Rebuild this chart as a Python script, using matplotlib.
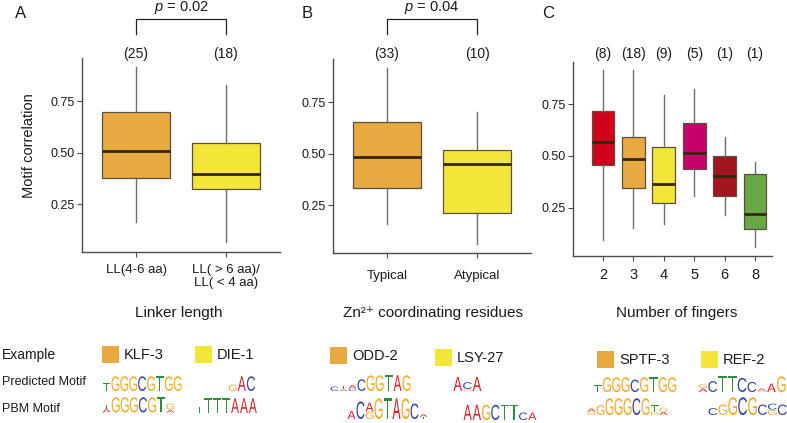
import matplotlib
matplotlib.use("Agg")
import matplotlib.pyplot as plt
from matplotlib.textpath import TextPath
from matplotlib.font_manager import FontProperties
from matplotlib.patches import PathPatch, Rectangle
from matplotlib.transforms import Affine2D

plt.rcParams['font.family'] = ['Liberation Sans', 'DejaVu Sans']
plt.rcParams['mathtext.fontset'] = 'custom'
plt.rcParams['mathtext.rm'] = 'Liberation Sans'
plt.rcParams['mathtext.it'] = 'Liberation Sans:italic'

# ---------------- data ----------------
# Panel A
a_cats = ["LL(4-6 aa)", "LL( > 6 aa)/\nLL( < 4 aa)"]
a_counts = [25, 18]
a_whislo = [0.163, 0.066]
a_q1 = [0.376, 0.323]
a_med = [0.505, 0.396]
a_q3 = [0.697, 0.546]
a_whishi = [0.915, 0.828]
a_pval = "0.02"

# Panel B
b_cats = ["Typical", "Atypical"]
b_counts = [33, 10]
b_whislo = [0.158, 0.060]
b_q1 = [0.333, 0.211]
b_med = [0.483, 0.449]
b_q3 = [0.653, 0.517]
b_whishi = [0.915, 0.700]
b_pval = "0.04"

# Panel C
c_cats = ["2", "3", "4", "5", "6", "8"]
c_counts = [8, 18, 9, 5, 1, 1]
c_whislo = [0.096, 0.154, 0.173, 0.307, 0.216, 0.063]
c_q1 = [0.457, 0.346, 0.274, 0.437, 0.307, 0.149]
c_med = [0.567, 0.486, 0.365, 0.514, 0.404, 0.221]
c_q3 = [0.716, 0.591, 0.543, 0.659, 0.500, 0.413]
c_whishi = [0.913, 0.913, 0.793, 0.822, 0.591, 0.471]

ytick_vals = [0.25, 0.50, 0.75]
ytick_labels = ["0.25", "0.50", "0.75"]

# Example legend names
ex_names = ["KLF-3", "DIE-1", "ODD-2", "LSY-27", "SPTF-3", "REF-2"]

# Sequence logos: columns separated by spaces, letters stacked bottom->top "letter+height"
logo_pred = [
    "T.55 G1 G1 G1 C1 G1 T1 G1 G1",          # KLF-3
    "G.45 A1 C1",                            # DIE-1
    "C.3 A.12/T.22 C.15/A.25 C.75 G1 G1 T1 A1 G1",  # ODD-2
    "A.9 G.12/C.45 A.9",                     # LSY-27
    "T.5 G1 G1 G1 C.85 G1 T1 G1 G1",         # SPTF-3
    "A.25/G.25 C.7 T1 T1 C.9 C.65 G.08/A.15 A.55 G1",  # REF-2
]
logo_pbm = [
    "A.25/T.25 G1 G1 G1 C1 G1 T1 A.2/G.4",   # KLF-3
    "T.45 T1 T1 T1 A1 A1 A1",                # DIE-1
    "A.4 C.85 G.35/A.45 G1 T1 A1 G1 C.75 T.1/A.15",  # ODD-2
    "A1 A1 G1 C1 T1 T1 C.5 A.5",             # LSY-27
    "G.2/A.2 G.6 G1 G1 G1 C1 G1 G.2/T.4 A.2/G.25",  # SPTF-3
    "C.4 G.6 G1 C1 G1 C.6 G.3/C.35 C.6",     # REF-2
]

# ---------------- style ----------------
W, H = 787, 423
fig = plt.figure(figsize=(W / 100, H / 100), dpi=100)

col_orange = "#E8AA40"
col_yellow = "#F4E639"
c_colors = ["#D0021B", col_orange, col_yellow, "#C7006E", "#A3151F", "#66A843"]
letter_colors = {"A": "#D42129", "C": "#3343A5", "G": "#F0AA26", "T": "#2E8C3E"}
axis_col = "#4d4d4d"
txt_col = "#1a1a1a"


def add_ax(left, top, right, bottom):
    return fig.add_axes([left / W, 1 - bottom / H, (right - left) / W, (bottom - top) / H])


def style_axes(ax, cats, xfs):
    for s in ["top", "right"]:
        ax.spines[s].set_visible(False)
    for s in ["left", "bottom"]:
        ax.spines[s].set_color(axis_col)
        ax.spines[s].set_linewidth(1.0)
    ax.set_yticks(ytick_vals)
    ax.set_yticklabels(ytick_labels)
    ax.set_xticks(range(1, len(cats) + 1))
    ax.set_xticklabels(cats, linespacing=1.15)
    ax.tick_params(axis="y", direction="out", length=3.5, width=0.8, color=axis_col,
                   labelsize=9, labelcolor=txt_col, pad=1.5)
    ax.tick_params(axis="x", direction="out", length=3.5, width=0.8, color=axis_col,
                   labelsize=xfs, labelcolor=txt_col, pad=5)
    ax.set_facecolor("none")


def draw_boxes(ax, whislo, q1, med, q3, whishi, colors, ylim):
    stats = []
    for i in range(len(med)):
        stats.append(dict(whislo=whislo[i], q1=q1[i], med=med[i], q3=q3[i],
                          whishi=whishi[i], fliers=[]))
    bp = ax.bxp(stats, positions=range(1, len(med) + 1), widths=0.75, patch_artist=True,
                showcaps=False, showfliers=False,
                boxprops=dict(edgecolor="#5a5040", linewidth=0.9),
                medianprops=dict(color="#33260f", linewidth=2.0),
                whiskerprops=dict(color="#6e6e6e", linewidth=1.0))
    for patch, c in zip(bp["boxes"], colors):
        patch.set_facecolor(c)
    ax.set_ylim(*ylim)


def annotate_top(ax, counts, ylim, px_per_unit, top_px, count_px, pval=None):
    ytop = ylim[1]
    def val(ypx):
        return ytop + (top_px - ypx) / px_per_unit
    for i, n in enumerate(counts):
        ax.text(i + 1, val(count_px), "(%d)" % n, ha="center", va="center", fontsize=10,
                color=txt_col, clip_on=False)
    if pval is not None:
        ax.plot([1, 1, 2, 2], [val(34), val(19), val(19), val(34)], color="#222222",
                lw=0.9, clip_on=False, solid_joinstyle="miter")
        ax.text(1.5, val(7), r"$p$ = " + pval, ha="center", va="center", fontsize=10.5,
                color=txt_col, clip_on=False)


# Panel A
ylimAB = (0.017, 0.959)
axA = add_ax(82, 58, 280, 252)
draw_boxes(axA, a_whislo, a_q1, a_med, a_q3, a_whishi, [col_orange, col_yellow], ylimAB)
axA.set_xlim(0.4, 2.6)
style_axes(axA, a_cats, 9.5)
annotate_top(axA, a_counts, ylimAB, 206, 58, 54, a_pval)
for lab in axA.get_xticklabels():
    lab.set_verticalalignment("top")

# Panel B
axB = add_ax(333, 59, 531, 253)
draw_boxes(axB, b_whislo, b_q1, b_med, b_q3, b_whishi, [col_orange, col_yellow], ylimAB)
axB.set_xlim(0.4, 2.6)
style_axes(axB, b_cats, 9.5)
axB.tick_params(axis="x", pad=9)
annotate_top(axB, b_counts, ylimAB, 206, 59, 54, b_pval)

# Panel C
ylimC = (0.019, 0.952)
axC = add_ax(573, 62, 772, 256)
draw_boxes(axC, c_whislo, c_q1, c_med, c_q3, c_whishi, c_colors, ylimC)
axC.set_xlim(0.01, 6.56)
style_axes(axC, c_cats, 10.5)
annotate_top(axC, c_counts, ylimC, 208, 62, 54)

# Overlay for texts and logos in pixel coordinates
ov = fig.add_axes([0, 0, 1, 1])
ov.set_xlim(0, W)
ov.set_ylim(H, 0)
ov.axis("off")
ov.set_facecolor("none")

ov.text(21, 13, "A", fontsize=12, ha="center", va="center", color=txt_col)
ov.text(307, 13, "B", fontsize=12, ha="center", va="center", color=txt_col)
ov.text(548, 13, "C", fontsize=12, ha="center", va="center", color=txt_col)

ov.text(29, 146, "Motif correlation", rotation=90, fontsize=10.5, ha="center", va="center",
        color=txt_col)
ov.text(179, 313, "Linker length", fontsize=11, ha="center", va="center", color=txt_col)
ov.text(433, 313, "Zn\u00b2\u207a coordinating residues", fontsize=11, ha="center",
        va="center", color=txt_col, family=["Liberation Sans", "DejaVu Sans"])
ov.text(677, 313, "Number of fingers", fontsize=11, ha="center", va="center", color=txt_col)

ov.text(2, 355, "Example", fontsize=10, ha="left", va="center", color=txt_col)
ov.text(2, 382, "Predicted Motif", fontsize=9, ha="left", va="center", color=txt_col)
ov.text(2, 409, "PBM Motif", fontsize=9, ha="left", va="center", color=txt_col)

# legend squares (x, y center) and name text
leg_pos = [(102, 355), (195, 355), (330, 356), (435, 358), (597, 360), (701, 360)]
leg_cols = [col_orange, col_yellow, col_orange, col_yellow, col_orange, col_yellow]
for (lx, ly), c, name in zip(leg_pos, leg_cols, ex_names):
    ov.add_patch(Rectangle((lx, ly - 8.5), 17, 17, facecolor=c, edgecolor="none"))
    ov.text(lx + 22, ly, name, fontsize=10.5, ha="left", va="center", color=txt_col)

fp = FontProperties(family="Liberation Sans")


def draw_letter(ch, x, ybase, w, h):
    tp = TextPath((0, 0), ch, size=10, prop=fp)
    bb = tp.get_extents()
    tr = (Affine2D().translate(-bb.x0, -bb.y0)
          .scale(w / bb.width, -h / bb.height).translate(x, ybase))
    ov.add_patch(PathPatch(tr.transform_path(tp), facecolor=letter_colors[ch],
                           edgecolor="none"))


def draw_logo(spec, x0, ybase, colw, full_h):
    for i, col in enumerate(spec.split()):
        y = ybase
        for item in col.split("/"):
            ch, frac = item[0], float(item[1:])
            h = frac * full_h
            draw_letter(ch, x0 + i * colw + 0.5, y, colw - 1.0, h - 0.3)
            y -= h


# layout for logos: (x start, column width, baseline, full height)
pred_layout = [(102, 8.9, 391, 15), (228, 9.2, 391, 15), (330, 9.0, 391, 16),
               (453, 9.6, 391, 16), (593, 9.3, 392, 15), (698, 9.8, 392, 16)]
pbm_layout = [(102, 9.1, 412.5, 15.5), (195, 8.9, 413, 15), (347, 9.0, 419, 21),
              (463, 9.25, 420, 15.5), (587, 9.0, 415, 17), (708, 9.9, 415, 18)]
for spec, (x0, cw, yb, fh) in zip(logo_pred, pred_layout):
    draw_logo(spec, x0, yb, cw, fh)
for spec, (x0, cw, yb, fh) in zip(logo_pbm, pbm_layout):
    draw_logo(spec, x0, yb, cw, fh)

fig.savefig("out.png", dpi=100)
